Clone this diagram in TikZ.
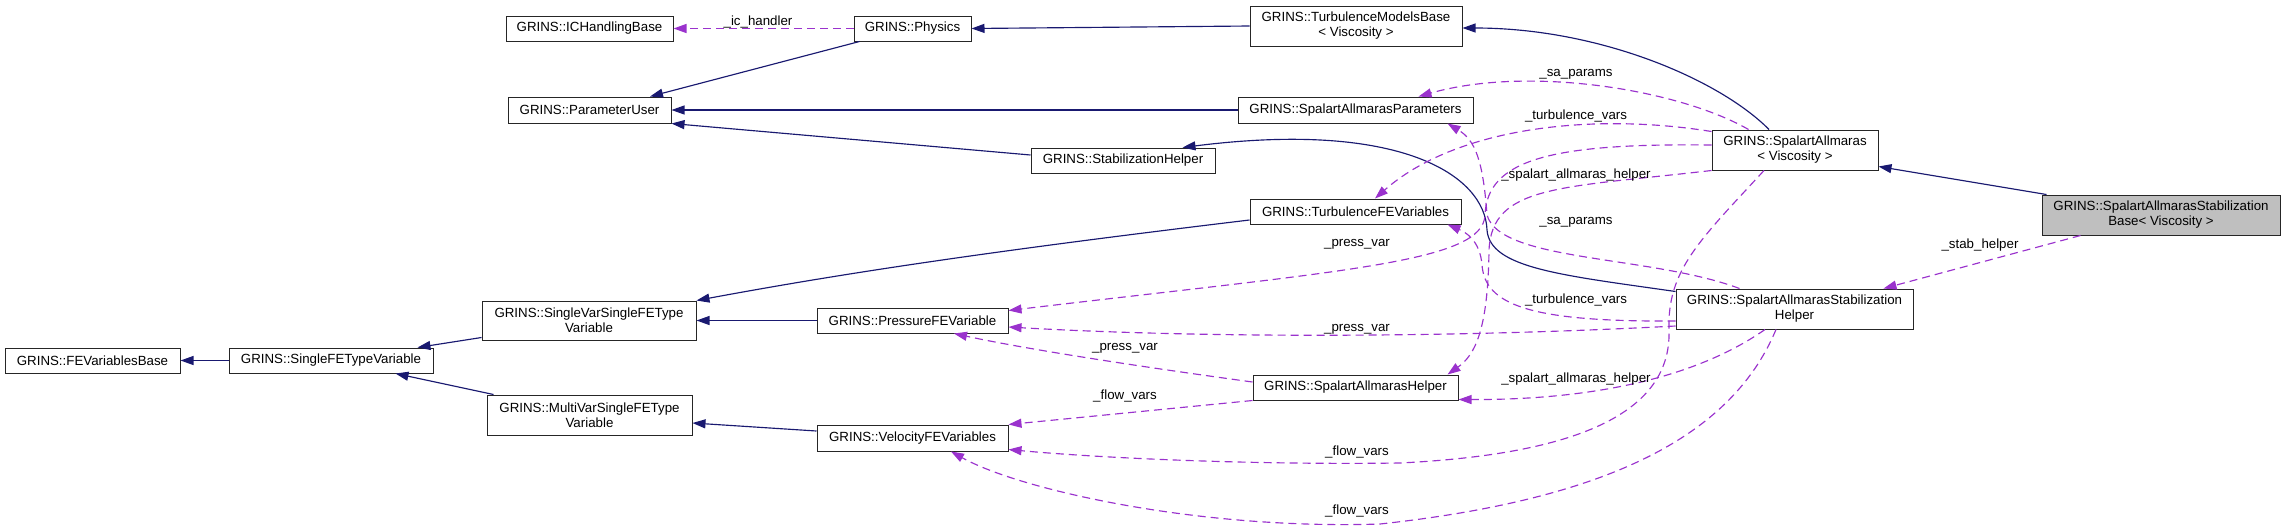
\documentclass[tikz,border=0pt]{standalone}
\usepackage{fontspec}
\setmainfont{Liberation Sans}
\usetikzlibrary{arrows.meta}
\definecolor{inhcol}{RGB}{25,25,112}
\definecolor{depcol}{RGB}{154,50,205}
\definecolor{rootfill}{RGB}{191,191,191}
\tikzset{
  cls/.style={draw=black!85, line width=1pt, fill=white, inner sep=0pt, align=center,
    font=\fontsize{13.3}{15}\selectfont, text=black},
  inh/.style={draw=inhcol, line width=1.15pt, -{Triangle[length=13pt,width=9pt]}},
  dep/.style={draw=depcol, line width=1.15pt, dash pattern=on 8pt off 5pt,
    -{Triangle[length=13pt,width=9pt]}},
  lbl/.style={font=\fontsize{13.3}{15}\selectfont, inner sep=0pt, text=black, anchor=base},
}
\begin{document}
\begin{tikzpicture}[x=1pt,y=-1pt]
\useasboundingbox (0,0) rectangle (2285,531);
% classes
\node[cls, minimum width=167pt, minimum height=25pt] (ich) at (589.5,28.5) {GRINS::ICHandlingBase};
\node[cls, minimum width=163pt, minimum height=26pt] (pu) at (589.5,110) {GRINS::ParameterUser};
\node[cls, minimum width=117pt, minimum height=25pt] (phys) at (912.5,28.5) {GRINS::Physics};
\node[cls, minimum width=212pt, minimum height=40pt] (tmb) at (1356,26) {GRINS::TurbulenceModelsBase\\\textless{} Viscosity \textgreater};
\node[cls, minimum width=235pt, minimum height=26pt] (sap) at (1355.5,110) {GRINS::SpalartAllmarasParameters};
\node[cls, minimum width=184pt, minimum height=25pt] (sh) at (1123,160.5) {GRINS::StabilizationHelper};
\node[cls, minimum width=211pt, minimum height=25pt] (tfev) at (1355.5,211.5) {GRINS::TurbulenceFEVariables};
\node[cls, minimum width=166pt, minimum height=40pt] (sa) at (1795,150) {GRINS::SpalartAllmaras\\\textless{} Viscosity \textgreater};
\node[cls, fill=rootfill, minimum width=238pt, minimum height=40pt] (sab) at (2161,215) {GRINS::SpalartAllmarasStabilization\\Base\textless{} Viscosity \textgreater};
\node[cls, minimum width=175pt, minimum height=25pt] (feb) at (92.5,360.5) {GRINS::FEVariablesBase};
\node[cls, minimum width=204pt, minimum height=25pt] (sftv) at (331,360.5) {GRINS::SingleFETypeVariable};
\node[cls, minimum width=214pt, minimum height=39pt] (svsftv) at (589,320.5) {GRINS::SingleVarSingleFEType\\Variable};
\node[cls, minimum width=205pt, minimum height=40pt] (mvsftv) at (589.5,415) {GRINS::MultiVarSingleFEType\\Variable};
\node[cls, minimum width=191pt, minimum height=25pt] (pfev) at (912.5,320.5) {GRINS::PressureFEVariable};
\node[cls, minimum width=191pt, minimum height=26pt] (vfev) at (912.5,438) {GRINS::VelocityFEVariables};
\node[cls, minimum width=205pt, minimum height=25pt] (sah) at (1355.5,387.5) {GRINS::SpalartAllmarasHelper};
\node[cls, minimum width=237pt, minimum height=40pt] (sash) at (1794.5,309) {GRINS::SpalartAllmarasStabilization\\Helper};
% inheritance
\draw[inh] ([xshift=6pt]phys.south west) -- ([xshift=60.5pt]pu.north);
\draw[inh] (tmb.west) -- (phys.east);
\draw[inh] ([xshift=-26pt]sa.north) .. controls (1720,80) and (1600,28) .. ([yshift=-2pt]tmb.east);
\draw[inh] (sap.west) -- (pu.east);
\draw[inh] ([yshift=5.5pt]sh.west) -- (pu.south east);
\draw[inh] ([yshift=-3pt]sash.north west) .. controls (1560,275) and (1490,268) .. (1487,230)
  .. controls (1485,175) and (1400,120) .. ([xshift=-33pt]sh.north east);
\draw[inh] ([yshift=3pt]svsftv.south west) -- ([xshift=-16pt]sftv.north east);
\draw[inh] ([xshift=7pt]mvsftv.north west) -- ([xshift=-38pt]sftv.south east);
\draw[inh] (sftv.west) -- (feb.east);
\draw[inh] ([yshift=-8.5pt]tfev.west) .. controls (1000,250) and (850,272) .. (svsftv.north east);
\draw[inh] (pfev.west) -- (svsftv.east);
\draw[inh] ([yshift=7pt]vfev.west) -- ([yshift=-8pt]mvsftv.east);
\draw[inh] ([xshift=5pt]sab.north west) -- ([yshift=4pt]sa.south east);
% usage
\draw[dep] (phys.west) -- (ich.east);
\draw[dep] ([xshift=39pt]sab.south west) -- ([xshift=-30pt]sash.north east);
\draw[dep] ([xshift=37pt]sa.north west) .. controls (1680,90) and (1530,65) .. ([xshift=-55pt]sap.north east);
\draw[dep] ([yshift=-2pt]sa.north west) .. controls (1590,112) and (1455,128) .. ([xshift=19.5pt]tfev.north);
\draw[dep] ([yshift=5pt]sa.west) .. controls (1550,143) and (1487,160) .. (1485,215)
  .. controls (1483,262) and (1350,270) .. ([yshift=-3pt]pfev.north east);
\draw[dep] (sa.south west) .. controls (1560,188) and (1492,185) .. (1489,250)
  .. controls (1488,330) and (1475,355) .. ([xshift=-11pt]sah.north east);
\draw[dep] ([xshift=64pt]sash.north west) .. controls (1650,255) and (1500,262) .. (1487,215)
  .. controls (1483,160) and (1475,140) .. ([xshift=-26pt]sap.south east);
\draw[dep] ([yshift=-12pt]sash.west) .. controls (1530,322) and (1485,305) .. (1482,265)
  .. controls (1480,240) and (1465,232) .. ([xshift=-14pt]tfev.south east);
\draw[dep] ([yshift=-17pt]sash.west) .. controls (1450,338) and (1200,338) .. ([yshift=-6.5pt]pfev.east);
\draw[dep] ([xshift=-29.5pt]sash.south) .. controls (1700,375) and (1600,400) .. ([yshift=1pt]sah.south east);
\draw[dep] ([xshift=-18.5pt]sash.south) .. controls (1730,440) and (1600,500) .. (1380,524)
  .. controls (1200,530) and (1020,490) .. ([xshift=38.5pt]vfev.south);
\draw[dep] ([xshift=-31pt]sa.south) .. controls (1700,240) and (1667,270) .. (1669,330)
  .. controls (1672,420) and (1560,455) .. (1400,463)
  .. controls (1250,465) and (1100,458) .. ([yshift=2pt]vfev.south east);
\draw[dep] ([yshift=5.5pt]sah.west) .. controls (1150,368) and (1030,350) .. ([xshift=41.5pt]pfev.south);
\draw[dep] (sah.south west) -- (vfev.north east);
% labels
\node[lbl] (l1) at (758,25) {\_ic\_handler};
\node[lbl] (l2) at (1576,76) {\_sa\_params};
\node[lbl] (l3) at (1576,119) {\_turbulence\_vars};
\node[lbl] (l4) at (1576,178) {\_spalart\_allmaras\_helper};
\node[lbl] (l5) at (1576,224) {\_sa\_params};
\node[lbl] (l6) at (1357,246) {\_press\_var};
\node[lbl] (l7) at (1576,303) {\_turbulence\_vars};
\node[lbl] (l8) at (1357,331) {\_press\_var};
\node[lbl] (l9) at (1576,382) {\_spalart\_allmaras\_helper};
\node[lbl] (l10) at (1125,350) {\_press\_var};
\node[lbl] (l11) at (1125,399) {\_flow\_vars};
\node[lbl] (l12) at (1357,455) {\_flow\_vars};
\node[lbl] (l13) at (1357,514) {\_flow\_vars};
\node[lbl] (l14) at (1980,248) {\_stab\_helper};
\end{tikzpicture}
\end{document}
